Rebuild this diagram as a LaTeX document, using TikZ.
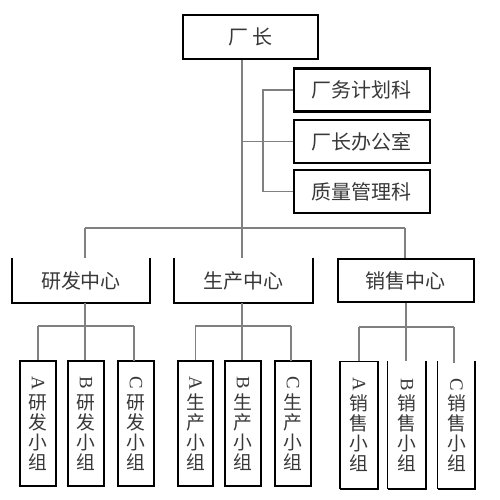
\documentclass[tikz,border=0pt]{standalone}
\usepackage{fontspec}
\usepackage{graphicx}
\setmainfont{Liberation Serif}
\newfontfamily\cjk{Noto Sans CJK SC}
\definecolor{txt}{gray}{0.22}
\definecolor{linkgray}{gray}{0.5}
\tikzset{
  hbox/.style={draw=black, line width=1.2pt, minimum width=68pt, minimum height=21.5pt, inner sep=0pt,
    font=\cjk\fontsize{10}{12}\selectfont, text=txt},
  vbox/.style={draw=black, line width=1.2pt, minimum width=18pt, minimum height=62.5pt, inner sep=0pt,
    align=center, font=\cjk\fontsize{9.4}{10}\selectfont, text=txt},
  nobox/.style={draw=none},
  frame/.style={draw=black, line width=1.2pt},
  thinframe/.style={draw=black, line width=0.6pt},
  link/.style={draw=linkgray, line width=0.7pt}
}
\newcommand{\lat}[1]{\rotatebox[origin=c]{-90}{\rmfamily #1}}
\begin{document}
\begin{tikzpicture}[x=0.5pt,y=-0.5pt]
\useasboundingbox (0,0) rectangle (500,500);
% top
\node[hbox, minimum width=67.5pt, minimum height=22pt] (top) at (250.5,37) {厂\hspace{2pt}长};
% staff
\node[hbox] (s1) at (362,90) {厂务计划科};
\node[hbox] (s2) at (362,141.5) {厂长办公室};
\node[hbox] (s3) at (362,191.5) {质量管理科};
% centres
\node[hbox, nobox] (c1) at (81,280.5) {研发中心};
\node[hbox, nobox, minimum width=68.5pt] (c2) at (243.5,280.5) {生产中心};
\node[hbox] (c3) at (406,280.5) {销售中心};
\draw[frame] (c1.north west) -- (c1.south west) -- (c1.south east) -- (c1.north east);
\draw[frame] (c2.north west) -- (c2.south west) -- (c2.south east) -- (c2.north east);
% groups
\node[vbox] (ga) at (38,423.5) {\lat{A}\\研\\发\\小\\组};
\node[vbox] (gb) at (86,423.5) {\lat{B}\\研\\发\\小\\组};
\node[vbox] (gc) at (136,423.5) {\lat{C}\\研\\发\\小\\组};
\node[vbox, minimum width=17.5pt] (pa) at (195.5,423.5) {\lat{A}\\生\\产\\小\\组};
\node[vbox] (pb) at (243,423.5) {\lat{B}\\生\\产\\小\\组};
\node[vbox] (pc) at (293,423.5) {\lat{C}\\生\\产\\小\\组};
\node[vbox, nobox] (xa) at (359,425) {\lat{A}\\销\\售\\小\\组};
\node[vbox, nobox] (xb) at (407,425) {\lat{B}\\销\\售\\小\\组};
\node[vbox, nobox, minimum width=17.5pt] (xc) at (456.5,425) {\lat{C}\\销\\售\\小\\组};
\draw[thinframe] (xa.north west) -- (xa.north east);
\draw[frame] (xa.north west) -- (xa.south west);
\draw[frame] (xa.north east) -- (xa.south east) -- (xa.south west);
\draw[thinframe] (xb.north west) -- (xb.south west);
\draw[frame] (xb.north east) -- (xb.south east) -- (xb.south west);
\draw[thinframe] (xc.north west) -- (xc.south west);
\draw[frame] (xc.north east) -- (xc.south east) -- (xc.south west);
% junction coordinates
\coordinate (j0) at (242,228);
\coordinate (b1) at (263,90);
\coordinate (b3) at (263,191.5);
\coordinate (h1) at (85,228);
\coordinate (h3) at (405,228);
\coordinate (k1) at (85,326);
\coordinate (k2) at (242,326);
\coordinate (k3) at (406,327);
% connectors
\draw[link] (top.south -| j0) -- (j0);
\draw[link] (h1) -- (h3);
\draw[link] (j0 |- s2.west) -- (s2.west);
\draw[link] (s1.west) -- (b1) -- (b3) -- (s3.west);
\draw[link] (h1) -- (h1 |- c1.north);
\draw[link] (j0) -- (j0 |- c2.north);
\draw[link] (h3) -- (h3 |- c3.north);
% research
\draw[link] (c1.south -| k1) -- (k1 |- gb.north);
\draw[link] (38,326) -- (134,326);
\draw[link] (38,326) -- (ga.north);
\draw[link] (134,326) -- (134,361);
% production
\draw[link] (c2.south -| k2) -- (k2 |- pb.north);
\draw[link] (195.5,326) -- (291,326);
\draw[link] (195.5,326) -- (pa.north);
\draw[link] (291,326) -- (291,361);
% sales
\draw[link] (c3.south) -- (c3.south |- xb.north);
\draw[link] (359,327) -- (454,327);
\draw[link] (359,327) -- (xa.north);
\draw[link] (454,327) -- (454,362.5);
\end{tikzpicture}
\end{document}
